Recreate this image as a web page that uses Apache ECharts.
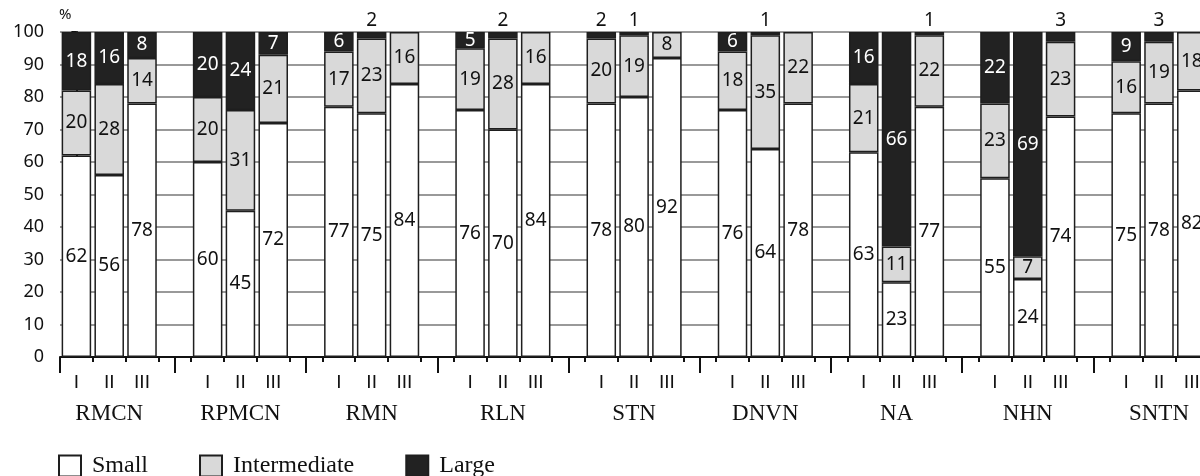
<!DOCTYPE html>
<html>
<head>
<meta charset="utf-8">
<script src="https://cdn.jsdelivr.net/npm/echarts@6/dist/echarts.min.js"></script>
<style>
html,body{margin:0;padding:0;background:#fff;overflow:hidden;width:1200px;height:476px;}
#chart{width:1241px;height:476px;}
</style>
</head>
<body>
<div id="chart"></div>
<script>
// ---- data ----
const groups = ['RMCN', 'RPMCN', 'RMN', 'RLN', 'STN', 'DNVN', 'NA', 'NHN', 'SNTN'];
const subLabels = ['I', 'II', 'III'];
const yTicks = [0, 10, 20, 30, 40, 50, 60, 70, 80, 90, 100];
const yUnit = '%';
const smallVals = [62, 56, 78, 60, 45, 72, 77, 75, 84, 76, 70, 84, 78, 80, 92, 76, 64, 78, 63, 23, 77, 55, 24, 74, 75, 78, 82];
const interVals = [20, 28, 14, 20, 31, 21, 17, 23, 16, 19, 28, 16, 20, 19, 8, 18, 35, 22, 21, 11, 22, 23, 7, 23, 16, 19, 18];
const largeVals = [18, 16, 8, 20, 24, 7, 6, 2, 0, 5, 2, 0, 2, 1, 0, 6, 1, 0, 16, 66, 1, 22, 69, 3, 9, 3, 0];

// ---- build slot layout: I, II, III, gap per group ----
const categories = [];
groups.forEach(() => { subLabels.forEach(s => categories.push(s)); categories.push(''); });

function toSlots(vals, isLarge) {
  const out = [];
  groups.forEach((g, gi) => {
    for (let k = 0; k < 3; k++) {
      const v = vals[gi * 3 + k];
      if (v === 0) { out.push('-'); continue; }
      if (isLarge && v <= 3) {
        out.push({ value: v, label: { position: 'top', color: '#111', distance: 2 } });
      } else {
        out.push(v);
      }
    }
    out.push('-');
  });
  return out;
}

const longTicks = [-0.5];
const groupLabelPos = [];
groups.forEach((g, gi) => { longTicks.push(gi * 4 + 3); groupLabelPos.push(gi * 4 + 1); });

const numFont = 'Noto Sans';
const romanFont = 'DejaVu Sans';
const serif = 'Liberation Serif';
const border = '#1e1e1e';

const baseSeries = {
  type: 'bar',
  stack: 'total',
  barWidth: '90%',
  xAxisIndex: 0,
  yAxisIndex: 0,
  label: { show: true, position: 'inside', fontFamily: numFont, fontSize: 19, color: '#111' },
  emphasis: { disabled: true }
};

const option = {
  animation: false,
  backgroundColor: '#fff',
  textStyle: { fontFamily: numFont },
  grid: { left: 60, right: 0, top: 32, bottom: 119, containLabel: false },
  graphic: [{
    type: 'text', left: 59, top: 7, silent: true,
    style: { text: yUnit, fontFamily: numFont, fontSize: 15, fill: '#111' }
  }],
  legend: {
    left: 58, top: 454, padding: 0,
    itemWidth: 22, itemHeight: 21, itemGap: 51,
    icon: 'rect',
    textStyle: { fontFamily: serif, fontSize: 24, color: '#111', padding: [0, 0, 0, 6] },
    data: ['Small', 'Intermediate', 'Large']
  },
  xAxis: [
    {
      type: 'category',
      data: categories,
      position: 'bottom',
      axisLine: { show: true, lineStyle: { color: '#111', width: 2 } },
      axisTick: { show: true, interval: 0, length: 5, lineStyle: { color: '#111', width: 2 } },
      axisLabel: { interval: 0, fontFamily: romanFont, fontSize: 18, color: '#111', margin: 17 },
      splitLine: { show: false }
    },
    {
      type: 'value',
      min: -0.5, max: 35.5,
      position: 'bottom',
      axisLine: { show: false },
      splitLine: { show: false },
      axisTick: { show: true, customValues: longTicks, length: 16, lineStyle: { color: '#111', width: 2 } },
      axisLabel: {
        show: true, customValues: groupLabelPos,
        formatter: v => groups[Math.round((v - 1) / 4)] || '',
        fontFamily: serif, fontSize: 23, color: '#111', margin: 45
      }
    }
  ],
  yAxis: {
    type: 'value',
    min: 0, max: 100, interval: 10,
    axisLine: { show: true, lineStyle: { color: '#111', width: 2 } },
    axisTick: { show: true, length: 5, lineStyle: { color: '#111', width: 2 } },
    axisLabel: { fontFamily: numFont, fontSize: 18, color: '#111', margin: 16,
      customValues: yTicks },
    splitLine: { show: true, lineStyle: { color: '#777', width: 1.5 } }
  },
  series: [
    Object.assign({}, baseSeries, {
      name: 'Small',
      data: toSlots(smallVals, false),
      itemStyle: { color: '#ffffff', borderColor: border, borderWidth: 1.5 }
    }),
    Object.assign({}, baseSeries, {
      name: 'Intermediate',
      data: toSlots(interVals, false),
      itemStyle: { color: '#d9d9d9', borderColor: border, borderWidth: 1.5 }
    }),
    Object.assign({}, baseSeries, {
      name: 'Large',
      data: toSlots(largeVals, true),
      itemStyle: { color: '#222222', borderColor: border, borderWidth: 1.5 },
      label: { show: true, position: 'inside', fontFamily: numFont, fontSize: 19, color: '#ffffff' }
    })
  ]
};

const chart = echarts.init(document.getElementById('chart'), null, { renderer: 'canvas' });
chart.setOption(option);
</script>
</body>
</html>
